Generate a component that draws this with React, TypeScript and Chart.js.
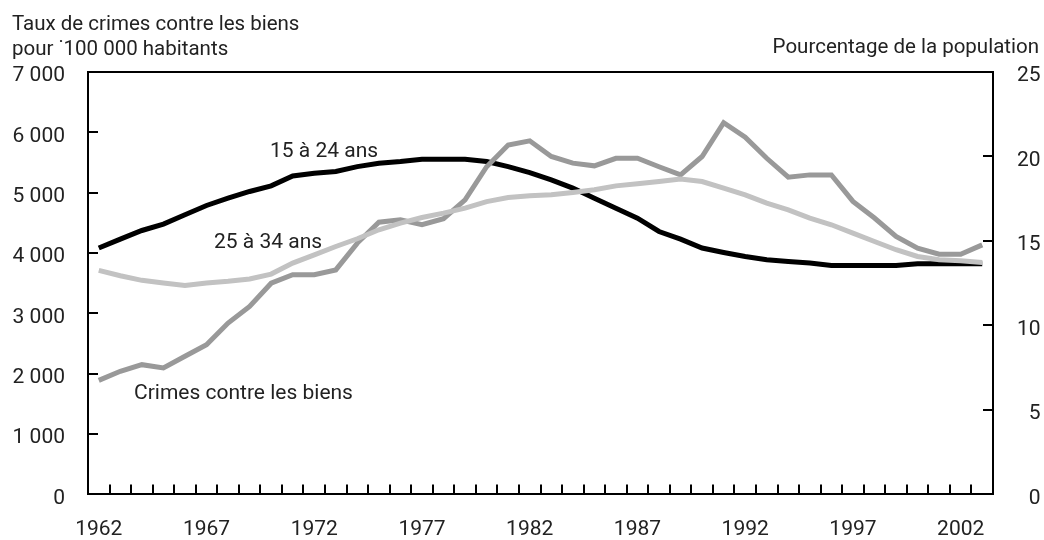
import React, { useEffect, useRef } from 'react';
import { Chart, registerables } from 'chart.js';

Chart.register(...registerables);

const years = [
  '1962', '1963', '1964', '1965', '1966', '1967', '1968', '1969', '1970', '1971',
  '1972', '1973', '1974', '1975', '1976', '1977', '1978', '1979', '1980', '1981',
  '1982', '1983', '1984', '1985', '1986', '1987', '1988', '1989', '1990', '1991',
  '1992', '1993', '1994', '1995', '1996', '1997', '1998', '1999', '2000', '2001',
  '2002', '2003',
];

const labelledYears = ['1962', '1967', '1972', '1977', '1982', '1987', '1992', '1997', '2002'];

// Taux de crimes contre les biens pour 100 000 habitants (axe de gauche)
const propertyCrime = [
  1890, 2040, 2150, 2095, 2290, 2480, 2840, 3115, 3500, 3640,
  3640, 3720, 4165, 4510, 4550, 4470, 4570, 4880, 5430, 5790,
  5860, 5600, 5490, 5445, 5570, 5570, 5430, 5295, 5600, 6160,
  5920, 5570, 5257, 5295, 5295, 4855, 4580, 4275, 4080, 3980,
  3980, 4135,
];

// Pourcentage de la population (axe de droite)
const age15to24 = [
  14.58, 15.11, 15.62, 16.0, 16.55, 17.1, 17.53, 17.93, 18.26, 18.85,
  19.01, 19.11, 19.4, 19.6, 19.7, 19.84, 19.84, 19.84, 19.7, 19.4,
  19.05, 18.62, 18.13, 17.53, 16.94, 16.35, 15.56, 15.11, 14.58, 14.32,
  14.08, 13.89, 13.79, 13.69, 13.55, 13.55, 13.55, 13.55, 13.65, 13.65,
  13.65, 13.65,
];

const age25to34 = [
  13.26, 12.94, 12.67, 12.51, 12.37, 12.51, 12.61, 12.75, 13.04, 13.69,
  14.18, 14.67, 15.13, 15.66, 16.06, 16.39, 16.65, 16.94, 17.33, 17.57,
  17.67, 17.73, 17.87, 18.03, 18.26, 18.38, 18.52, 18.66, 18.52, 18.13,
  17.73, 17.24, 16.84, 16.35, 15.96, 15.46, 14.97, 14.48, 14.08, 13.89,
  13.83, 13.73,
];

const leftTitle = ['Taux de crimes contre les biens', 'pour ˙100 000 habitants'];
const rightTitle = 'Pourcentage de la population';
const seriesNames = ['Crimes contre les biens', '15 à 24 ans', '25 à 34 ans'];

const FONT_FAMILY = 'Roboto, "Liberation Sans", sans-serif';
const TEXT = '#222222';

const fmtThousands = (v: number) => String(v).replace(/\B(?=(\d{3})+(?!\d))/g, ' ');

export default function App() {
  const ref = useRef<HTMLCanvasElement | null>(null);

  useEffect(() => {
    if (!ref.current) return;

    const textPlugin = {
      id: 'textPlugin',
      afterDraw(chart: any) {
        const ctx = chart.ctx;
        const area = chart.chartArea;
        ctx.save();
        // top border of the frame
        ctx.strokeStyle = '#000';
        ctx.lineWidth = 2;
        ctx.beginPath();
        ctx.moveTo(area.left - 1, area.top);
        ctx.lineTo(area.right + 1, area.top);
        ctx.stroke();

        ctx.fillStyle = TEXT;
        ctx.font = `20.5px ${FONT_FAMILY}`;
        ctx.textBaseline = 'alphabetic';
        ctx.textAlign = 'left';
        ctx.fillText(leftTitle[0], 12, 30);
        ctx.fillText(leftTitle[1], 12, 55);
        ctx.textAlign = 'right';
        ctx.fillText(rightTitle, 1039, 53);

        ctx.font = `21px ${FONT_FAMILY}`;
        ctx.textAlign = 'left';
        ctx.fillText(seriesNames[1], 270, 157);
        ctx.fillText(seriesNames[2], 214, 248);
        ctx.fillText(seriesNames[0], 134, 399);
        ctx.restore();
      },
    };

    const tickFont = { family: FONT_FAMILY, size: 21 };

    const chart = new Chart(ref.current, {
      type: 'line',
      data: {
        labels: years,
        datasets: [
          {
            label: seriesNames[2],
            data: age25to34,
            yAxisID: 'yRight',
            borderColor: '#c2c2c2',
            borderWidth: 5,
            pointRadius: 0,
            tension: 0,
            fill: false,
          },
          {
            label: seriesNames[0],
            data: propertyCrime,
            yAxisID: 'yLeft',
            borderColor: '#999999',
            borderWidth: 5,
            pointRadius: 0,
            tension: 0,
            fill: false,
          },
          {
            label: seriesNames[1],
            data: age15to24,
            yAxisID: 'yRight',
            borderColor: '#000000',
            borderWidth: 5,
            pointRadius: 0,
            tension: 0,
            fill: false,
          },
        ],
      },
      options: {
        responsive: false,
        animation: false,
        devicePixelRatio: 1,
        layout: { padding: { top: 72, left: 0, right: 3.5, bottom: 0 } },
        plugins: {
          legend: { display: false },
          tooltip: { enabled: false },
        },
        scales: {
          x: {
            type: 'category',
            offset: true,
            border: { display: true, color: '#000', width: 2 },
            grid: {
              offset: true,
              drawOnChartArea: false,
              drawTicks: true,
              tickLength: -10,
              color: '#000',
              lineWidth: 2,
            },
            ticks: {
              autoSkip: false,
              maxRotation: 0,
              minRotation: 0,
              padding: 33,
              color: TEXT,
              font: tickFont,
              callback: (_v: any, i: number) =>
                labelledYears.includes(years[i]) ? years[i] : '',
            },
            afterFit: (scale: any) => {
              scale.height = 45;
            },
          },
          yLeft: {
            type: 'linear',
            position: 'left',
            min: 0,
            max: 7000,
            border: { display: true, color: '#000', width: 2 },
            grid: {
              drawOnChartArea: false,
              drawTicks: true,
              tickLength: -10,
              color: '#000',
              lineWidth: 2,
            },
            ticks: {
              stepSize: 1000,
              padding: 33,
              labelOffset: 4,
              color: TEXT,
              font: tickFont,
              callback: (v: any) => fmtThousands(Number(v)),
            },
            afterFit: (scale: any) => {
              scale.width = 88;
            },
          },
          yRight: {
            type: 'linear',
            position: 'right',
            min: 0,
            max: 25,
            border: { display: true, color: '#000', width: 2 },
            grid: {
              drawOnChartArea: false,
              drawTicks: true,
              tickLength: -10,
              color: '#000',
              lineWidth: 2,
            },
            ticks: {
              stepSize: 5,
              padding: 20,
              crossAlign: 'far',
              labelOffset: 4,
              color: TEXT,
              font: tickFont,
            },
            afterFit: (scale: any) => {
              scale.width = 47.5;
            },
          },
        },
      } as any,
      plugins: [textPlugin],
    });

    return () => chart.destroy();
  }, []);

  return (
    <div style={{ position: 'fixed', left: 0, top: 0, width: 1044, height: 540, background: '#fff' }}>
      <canvas ref={ref} width={1044} height={540} />
    </div>
  );
}
